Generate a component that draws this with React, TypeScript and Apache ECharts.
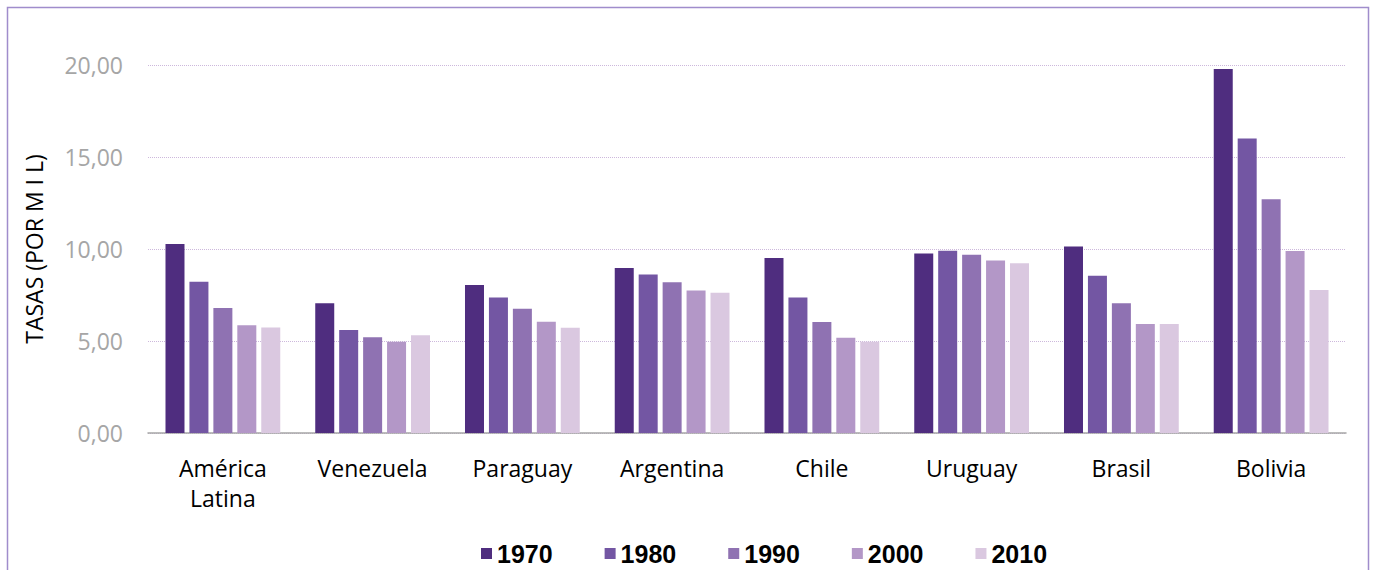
import React, { useEffect, useRef } from "react";
import * as echarts from "echarts";

const categories = ["América\nLatina", "Venezuela", "Paraguay", "Argentina", "Chile", "Uruguay", "Brasil", "Bolivia"];
const years = ["1970", "1980", "1990", "2000", "2010"];
const v1970 = [10.27, 7.05, 8.05, 8.97, 9.51, 9.75, 10.13, 19.78];
const v1980 = [8.22, 5.6, 7.36, 8.61, 7.36, 9.91, 8.55, 16.0];
const v1990 = [6.79, 5.2, 6.75, 8.19, 6.03, 9.69, 7.05, 12.7];
const v2000 = [5.85, 4.96, 6.05, 7.74, 5.18, 9.37, 5.92, 9.89];
const v2010 = [5.74, 5.31, 5.72, 7.62, 4.96, 9.22, 5.92, 7.77];
const seriesValues = [v1970, v1980, v1990, v2000, v2010];
const colors = ["#4f2d7f", "#7356a3", "#8f72b2", "#b397c7", "#dac8e0"];
const yTicks = { min: 0, max: 20, interval: 5 };
const yName = "TASAS (POR M I L)";

export default function App() {
  const ref = useRef<HTMLDivElement>(null);
  useEffect(() => {
    document.body.style.margin = "0";
    const chart = echarts.init(ref.current!, null, { renderer: "svg" });
    chart.setOption({
      animation: false,
      backgroundColor: "#ffffff",
      graphic: [
        {
          type: "rect",
          shape: { x: 7.5, y: 7.5, width: 1361, height: 620 },
          style: { fill: "none", stroke: "#a08dcc", lineWidth: 1.5 },
          silent: true,
        },
      ],
      grid: { left: 148, right: 28, top: 65, bottom: 137 },
      legend: {
        left: 476,
        top: 536,
        itemWidth: 11,
        itemHeight: 11,
        itemGap: 52,
        icon: "rect",
        textStyle: { fontFamily: "Liberation Sans", fontWeight: "bold", fontSize: 25, color: "#000" },
        data: years,
      },
      xAxis: {
        type: "category",
        data: categories,
        axisLine: { lineStyle: { color: "#a6a6a6", width: 1.5 } },
        axisTick: { show: false },
        axisLabel: {
          fontFamily: "Open Sans",
          fontSize: 23,
          color: "#000",
          lineHeight: 30,
          margin: 20,
        },
      },
      yAxis: {
        type: "value",
        min: yTicks.min,
        max: yTicks.max,
        interval: yTicks.interval,
        name: yName,
        nameLocation: "middle",
        nameRotate: 90,
        nameGap: 103,
        nameTextStyle: { fontFamily: "Open Sans", fontSize: 23, color: "#000" },
        axisLine: { show: false },
        axisTick: { show: false },
        axisLabel: {
          fontFamily: "Open Sans",
          fontSize: 23,
          color: "#a6a6a6",
          margin: 25,
          formatter: (v: number) => v.toFixed(2).replace(".", ","),
        },
        splitLine: { lineStyle: { color: "#cdb8dc", type: "dotted", width: 1 } },
      },
      series: years.map((y, i) => ({
        name: y,
        type: "bar",
        data: seriesValues[i],
        barWidth: 19,
        barGap: "26%",
        itemStyle: { color: colors[i] },
      })),
    });
    return () => chart.dispose();
  }, []);
  return <div ref={ref} style={{ width: 1374, height: 570 }} />;
}
